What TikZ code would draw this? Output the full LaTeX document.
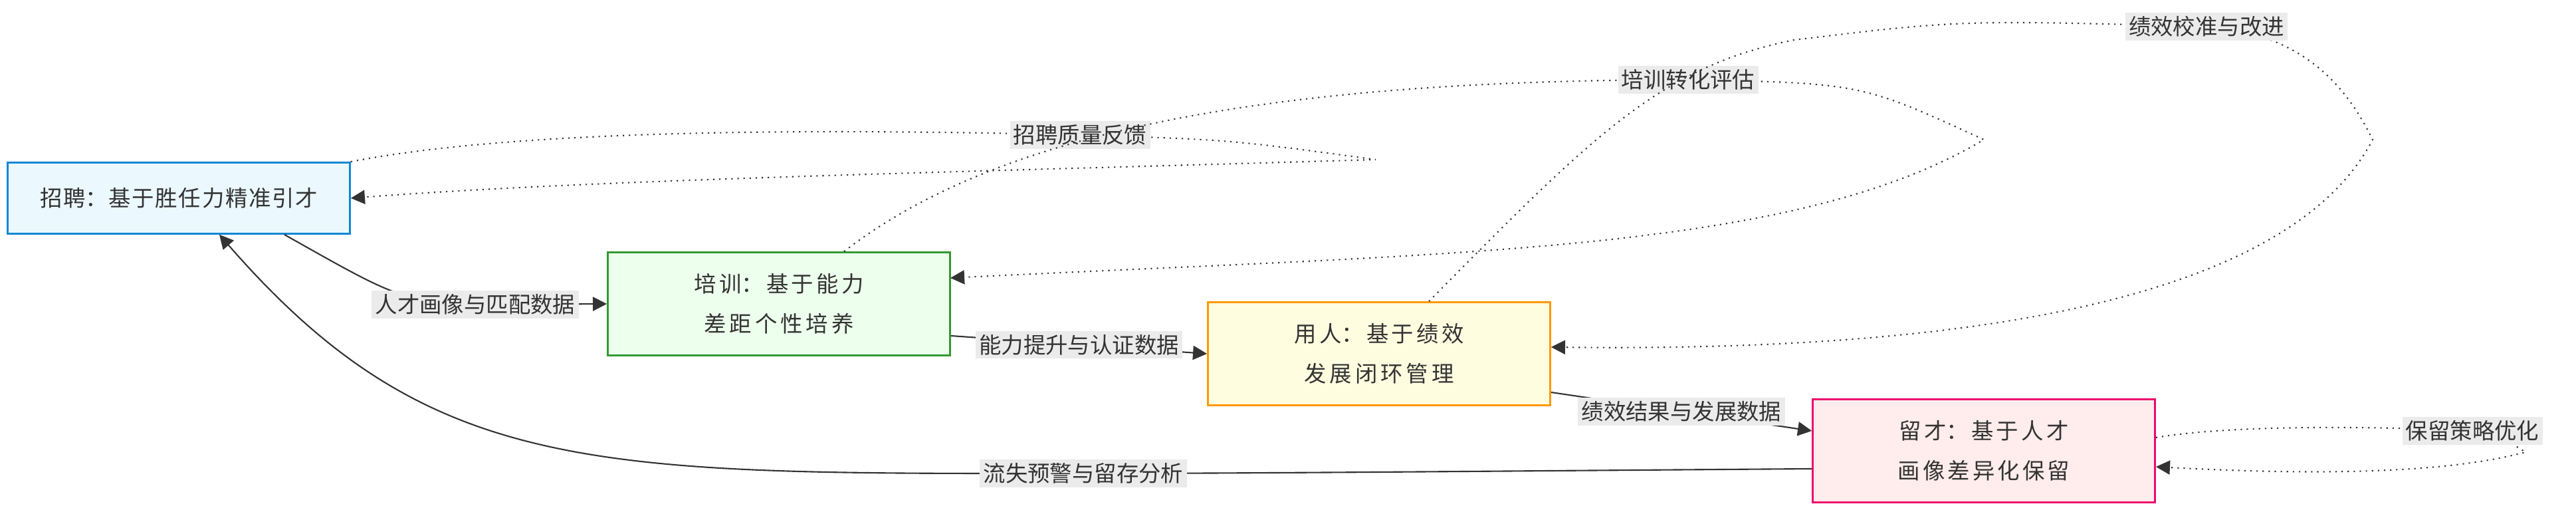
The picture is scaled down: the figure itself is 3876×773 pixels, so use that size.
\documentclass[tikz,border=0pt]{standalone}
\usepackage{fontspec}
\setmainfont{Noto Sans CJK SC}
\XeTeXlinebreaklocale "zh"
\XeTeXlinebreakskip=0pt plus 1pt
\usetikzlibrary{arrows.meta}
\definecolor{txt}{HTML}{333333}
\tikzset{
  stage/.style={draw, rectangle, minimum width=5.15cm, minimum height=1.55cm, align=center, text width=4.15cm, text=txt, font=\fontsize{9.5}{17}\selectfont, line width=0.7pt},
  lbl/.style={fill=black!8, inner sep=1.5pt, text=txt, font=\fontsize{9.5}{11}\selectfont},
  flow/.style={draw=txt, line width=0.6pt, -{Triangle[length=6pt,width=6pt]}},
  back/.style={flow, dotted}
}
\begin{document}
\begin{tikzpicture}[x=0.01cm, y=-0.01cm]
	\useasboundingbox (0,0) rectangle (3876,773);

	\node[stage, draw = cyan!70!blue, fill = cyan!8, minimum height=1.07cm, text width=4.8cm] (A) at (269, 298) {招聘：基于胜任力精准引才};
	\node[stage, draw = green!50!black!80, fill = green!7] (B) at (1172, 457) {培训：基于能力差距个性培养};
	\node[stage, draw = orange!80!yellow, fill = yellow!12] (C) at (2075, 532) {用人：基于绩效发展闭环管理};
	\node[stage, draw = magenta!70!red, fill = pink!30] (D) at (2985, 678) {留才：基于人才画像差异化保留};

	\coordinate (tA) at (2070, 240);
	\coordinate (tB) at (2985, 210);
	\coordinate (tC) at (3570, 210);
	\coordinate (tD) at (3800, 680);

	% forward flow
	\draw[flow] (A.south east) ++(-100,0) coordinate (a1) .. controls (600, 450) .. (715, 458) node[lbl] {人才画像与匹配数据} -- (B.west);
	\draw[flow] (B.east |- 0,505) coordinate (b1) -- node[lbl] {能力提升与认证数据} (C.west);
	\draw[flow] (C.east |- 0,590) coordinate (c1) -- node[lbl] {绩效结果与发展数据} (D.west |- 0,648);
	\draw[flow] (D.west |- 0,705) coordinate (d1) .. controls (2300, 708) and (1900, 712) .. (1630, 712)
		node[lbl] {流失预警与留存分析}
		.. controls (900, 712) and (650, 720) .. (A.south -| 330,0);

	% feedback loops
	\draw[back] (A.north east) .. controls (800, 190) and (1300, 195) .. (1625, 203) node[lbl] {招聘质量反馈}
		.. controls (1850, 210) .. (tA)
		.. controls (1400, 260) and (900, 270) .. (A.east);
	\draw[back] (B.north -| 1270,0) .. controls (1500, 200) and (1900, 120) .. (2540, 120)
		node[lbl] {培训转化评估}
		.. controls (2800, 125) .. (tB)
		.. controls (2700, 380) and (2200, 380) .. (1430, 418);
	\draw[back] (C.north -| 2150,0) .. controls (2400, 200) and (2500, 100) .. (2700, 60)
		.. controls (2950, 30) .. (3320, 40) node[lbl] {绩效校准与改进}
		.. controls (3480, 50) and (3540, 150) .. (tC)
		.. controls (3450, 440) and (3000, 530) .. (C.east |- 0,522);
	\draw[back] (D.east |- 0,658) .. controls (3350, 640) and (3550, 640) .. (3720, 648)
		node[lbl] {保留策略优化}
		.. controls (3760, 655) .. (tD)
		.. controls (3650, 720) and (3400, 710) .. (D.east |- 0,702);

\end{tikzpicture}
\end{document}
